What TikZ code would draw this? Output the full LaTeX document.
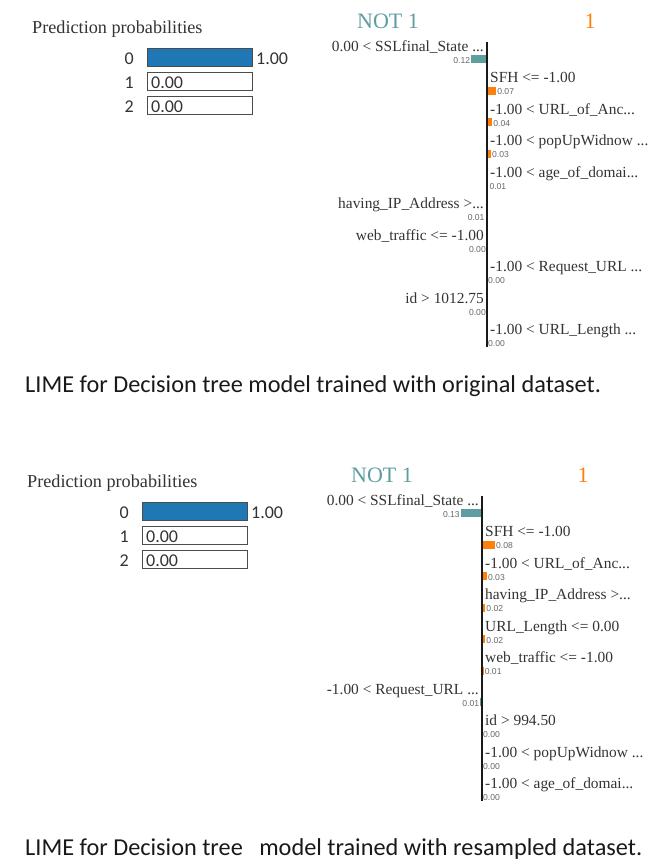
\documentclass[tikz,border=0pt]{standalone}
\usepackage{fontspec}
\setmainfont{Liberation Serif}
\setsansfont{Liberation Sans}
\newfontfamily\calfont{Carlito}
\usetikzlibrary{positioning}
\definecolor{probblue}{HTML}{1F77B4}
\definecolor{notone}{HTML}{5F9EA0}
\definecolor{isone}{HTML}{FF7F0E}

\begin{document}
\begin{tikzpicture}[
    x=1pt, y=-1pt,
    title/.style={anchor=base west, inner sep=0pt, text=black!80, font=\fontsize{18.2}{20}\selectfont},
    class label/.style={anchor=base east, inner sep=0pt, text=black!80, font=\calfont\fontsize{18}{20}\selectfont},
    prob label/.style={class label, anchor=base west},
    prob box/.style={draw=black!70, line width=0.9pt, anchor=north west, minimum width=105pt, minimum height=18pt, inner sep=0pt},
    side title/.style={anchor=base, inner sep=0pt, font=\fontsize{22}{24}\selectfont},
    feat/.style={inner sep=0pt, text=black!80, font=\fontsize{15.4}{17}\selectfont},
    weight/.style={inner sep=0pt, text=black!60, font=\sffamily\fontsize{8.6}{9}\selectfont},
    axis line/.style={line width=2.6pt, black!90},
    caption/.style={anchor=base west, inner sep=0pt, text=black!90, font=\calfont\fontsize{24.3}{26}\selectfont}
]

\useasboundingbox (0,0) rectangle (668,860);

% ---- original dataset ----
% Prediction probabilities
\node[title] (ptitle-a) at (32,33) {Prediction probabilities};
\foreach \k/\p in {0/1.00,1/0.00,2/0.00}{
  \fill[probblue] (147,48+24*\k) rectangle ++(105*\p,18);
  \node[prob box] (pbox-a\k) at (147,48+24*\k) {};
  \node[class label] (pcls-a\k) at (134,48+24*\k+16) {\k};
  \node[prob label] (pval-a\k) at (151+105*\p,48+24*\k+16) {\p};
}

% NOT 1 / 1
\node[side title, text=notone] (neg-a) at (388,28) {NOT 1};
\node[side title, text=isone] (pos-a) at (590,28) {1};

% features towards NOT 1
\foreach \r/\t/\v in {1/{0.00 < SSLfinal\_State ...}/0.12, 6/{having\_IP\_Address >...}/0.01,
    7/{web\_traffic <= -1.00}/0.00, 9/{id > 1012.75}/0.00}{
  \pgfmathsetmacro{\yy}{46+31.5*(\r-1)}
  \pgfmathsetmacro{\len}{130*\v}
  \fill[notone] (487,\yy+9) rectangle ++(-\len,8);
  \node[feat, anchor=base east] (feat-a\r) at (484,\yy+5) {\t};
  \node[weight, anchor=base east] (w-a\r) at (486-\len,\yy+17) {\v};
}

% features towards 1
\foreach \r/\t/\v in {2/{SFH <= -1.00}/0.07, 3/{-1.00 < URL\_of\_Anc...}/0.04,
    4/{-1.00 < popUpWidnow ...}/0.03, 5/{-1.00 < age\_of\_domai...}/0.01,
    8/{-1.00 < Request\_URL ...}/0.00, 10/{-1.00 < URL\_Length ...}/0.00}{
  \pgfmathsetmacro{\yy}{46+31.5*(\r-1)}
  \pgfmathsetmacro{\len}{130*\v}
  \fill[isone] (487,\yy+9) rectangle ++(\len,8);
  \node[feat, anchor=base west] (feat-a\r) at (490,\yy+5) {\t};
  \node[weight, anchor=base west] (w-a\r) at (488+\len,\yy+17) {\v};
}

% axis
\coordinate (axtop-a) at (487,42);
\coordinate (axbot-a) at (487,347);
\draw[axis line] (axtop-a) -- (axbot-a);

\node[caption] (cap-a) at (25,392) {LIME for Decision tree model trained with original dataset.};

% ---- resampled dataset ----
\begin{scope}[shift={(-5,454)}]
% Prediction probabilities
\node[title] (ptitle-b) at (32,33) {Prediction probabilities};
\foreach \k/\p in {0/1.00,1/0.00,2/0.00}{
  \fill[probblue] (147,48+24*\k) rectangle ++(105*\p,18);
  \node[prob box] (pbox-b\k) at (147,48+24*\k) {};
  \node[class label] (pcls-b\k) at (134,48+24*\k+16) {\k};
  \node[prob label] (pval-b\k) at (151+105*\p,48+24*\k+16) {\p};
}

% NOT 1 / 1
\node[side title, text=notone] (neg-b) at (387,28) {NOT 1};
\node[side title, text=isone] (pos-b) at (588,28) {1};

% features towards NOT 1
\foreach \r/\t/\v in {1/{0.00 < SSLfinal\_State ...}/0.13, 7/{-1.00 < Request\_URL ...}/0.01}{
  \pgfmathsetmacro{\yy}{46+31.5*(\r-1)}
  \pgfmathsetmacro{\len}{162*\v}
  \fill[notone] (487,\yy+9) rectangle ++(-\len,8);
  \node[feat, anchor=base east] (feat-b\r) at (484,\yy+5) {\t};
  \node[weight, anchor=base east] (w-b\r) at (486-\len,\yy+17) {\v};
}

% features towards 1
\foreach \r/\t/\v in {2/{SFH <= -1.00}/0.08, 3/{-1.00 < URL\_of\_Anc...}/0.03,
    4/{having\_IP\_Address >...}/0.02, 5/{URL\_Length <= 0.00}/0.02,
    6/{web\_traffic <= -1.00}/0.01, 8/{id > 994.50}/0.00,
    9/{-1.00 < popUpWidnow ...}/0.00, 10/{-1.00 < age\_of\_domai...}/0.00}{
  \pgfmathsetmacro{\yy}{46+31.5*(\r-1)}
  \pgfmathsetmacro{\len}{162*\v}
  \fill[isone] (487,\yy+9) rectangle ++(\len,8);
  \node[feat, anchor=base west] (feat-b\r) at (490,\yy+5) {\t};
  \node[weight, anchor=base west] (w-b\r) at (488+\len,\yy+17) {\v};
}

% axis
\coordinate (axtop-b) at (487,42);
\coordinate (axbot-b) at (487,347);
\draw[axis line] (axtop-b) -- (axbot-b);
\end{scope}

\node[caption] (cap-b) at (25,855) {LIME for Decision tree\ \ \ model trained with resampled dataset.};

\end{tikzpicture}
\end{document}
